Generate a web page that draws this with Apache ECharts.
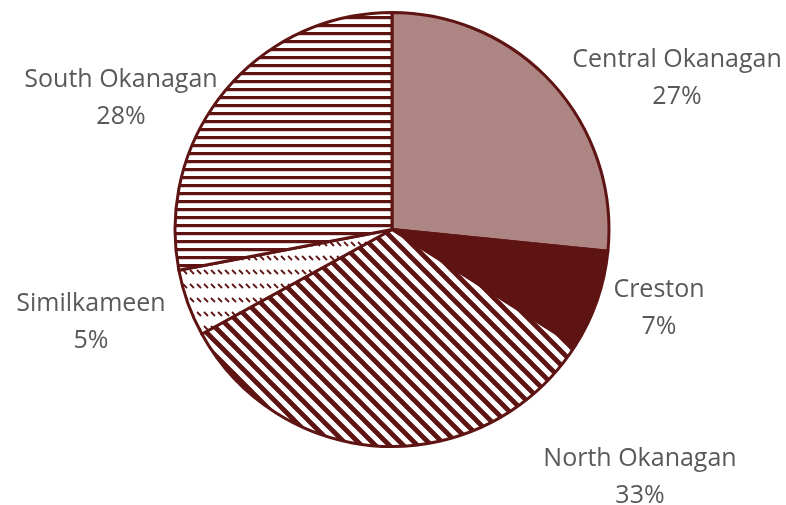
<!DOCTYPE html>
<html>
<head>
<meta charset="utf-8">
<script src="https://cdn.jsdelivr.net/npm/echarts@6/dist/echarts.min.js"></script>
<style>
  html, body { margin: 0; padding: 0; background: #fff; }
  #chart { width: 786px; height: 505px; }
</style>
</head>
<body>
<div id="chart"></div>
<script>
// regions and their share
var regions = ['Central Okanagan', 'Creston', 'North Okanagan', 'Similkameen', 'South Okanagan'];
var shares = [26.6, 7.4, 33.0, 5.0, 28.0];

var maroon = '#5f1414';

// small canvas tiles for the hatched fills
function makeTile(w, h, draw) {
	var c = document.createElement('canvas');
	c.width = w;
	c.height = h;
	var ctx = c.getContext('2d');
	ctx.fillStyle = '#fff';
	ctx.fillRect(0, 0, w, h);
	ctx.strokeStyle = maroon;
	ctx.fillStyle = maroon;
	draw(ctx);
	return { image: c, repeat: 'repeat' };
}

var horizStripes = makeTile(8, 8, function(ctx) {
	ctx.fillRect(0, 0, 8, 3.2);
});

var diagStripes = makeTile(14, 14, function(ctx) {
	ctx.lineWidth = 4.8;
	ctx.beginPath();
	ctx.moveTo(-3, -3); ctx.lineTo(17, 17);
	ctx.moveTo(-3, 11); ctx.lineTo(3, 17);
	ctx.moveTo(11, -3); ctx.lineTo(17, 3);
	ctx.stroke();
});

var dashRows = makeTile(7, 14, function(ctx) {
	ctx.lineWidth = 1.8;
	ctx.beginPath();
	ctx.moveTo(1, 4); ctx.lineTo(5, 8);
	ctx.stroke();
});

var fills = ['#ad8582', maroon, diagStripes, dashRows, horizStripes];

// where the labels sit (centre of the two-line block)
var labelAt = [[677, 78], [659, 308], [640, 477], [91, 322], [121, 98]];

var myChart = echarts.init(document.getElementById('chart'));

var data = [];
for (var i = 0; i < regions.length; i++) {
	data.push({
		name: regions[i],
		value: shares[i],
		itemStyle: { color: fills[i] }
	});
}

var option = {
	animation: false,
	series: [{
		type: 'pie',
		center: [392, 229.5],
		radius: 217,
		startAngle: 90,
		clockwise: true,
		avoidLabelOverlap: false,
		percentPrecision: 0,
		itemStyle: {
			borderColor: maroon,
			borderWidth: 3
		},
		label: {
			show: true,
			position: 'outside',
			formatter: '{b}\n{d}%',
			color: '#595959',
			fontFamily: 'Open Sans',
			fontSize: 25,
			lineHeight: 37,
			align: 'center'
		},
		labelLine: { show: false },
		labelLayout: function(params) {
			var p = labelAt[params.dataIndex];
			return { x: p[0], y: p[1], align: 'center', verticalAlign: 'middle' };
		},
		emphasis: { disabled: true },
		data: data
	}]
};
myChart.setOption(option);
</script>
</body>
</html>
